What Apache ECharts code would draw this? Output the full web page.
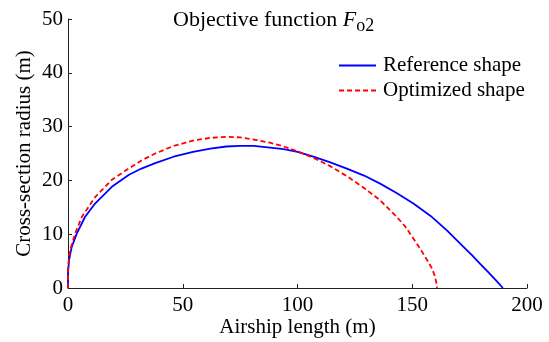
<!DOCTYPE html>
<html>
<head>
<meta charset="utf-8">
<script src="https://cdn.jsdelivr.net/npm/echarts@6/dist/echarts.min.js"></script>
<style>html,body{margin:0;padding:0;background:#fff;}#c{width:549px;height:342px;}</style>
</head>
<body>
<div id="c"></div>
<script>
var xTicks = [0, 50, 100, 150, 200];
var yTicks = [0, 10, 20, 30, 40, 50];
var seriesNames = ['Reference shape', 'Optimized shape'];
var referenceShape = [
  [0,0],[0,2.7],[0.45,5.2],[1.6,7.6],[3.8,10.1],[7.4,13.2],[11.8,15.7],[19.1,18.8],[26.4,21.0],[32,22.2],
  [38,23.2],[46,24.4],[54.5,25.3],[62,25.9],[69,26.3],[75,26.4],[81,26.4],[88,26.1],[94,25.8],[100,25.3],
  [106.9,24.4],[114,23.4],[121.5,22.2],[129,20.9],[136,19.4],[143,17.7],[150.5,15.7],[158,13.4],
  [165.1,10.7],[172,7.8],[176,6.1],[179.6,4.5],[183,3.0],[186.5,1.4],[189.5,0]
];
var optimizedShape = [
  [0,0],[0,3.9],[0.9,7.0],[3.1,10.1],[6,13.2],[11.8,16.9],[19.1,20.1],[26.4,22.2],[32,23.7],[38,25.0],
  [46,26.4],[54.5,27.4],[62,27.9],[69,28.1],[75,28.0],[81,27.6],[88,27.0],[94,26.3],[100,25.4],
  [106.9,24.2],[114,22.7],[121.5,20.8],[129,18.6],[136,16.3],[143.3,13.2],[147,11.4],[150.5,9.2],
  [153,7.6],[154.9,6.3],[156.9,4.9],[158.6,3.6],[159.7,2.4],[160.4,1.2],[160.8,0]
];

var font = 'Liberation Serif';
var chart = echarts.init(document.getElementById('c'));
chart.setOption({
  animation: false,
  backgroundColor: '#fff',
  title: {
    text: '{a|Objective function }{i|F}{s|o2}',
    left: 173, top: 3, padding: 0,
    textStyle: {
      fontWeight: 'normal',
      rich: {
        a: {fontFamily: font, fontSize: 22, fontWeight: 'normal', color: '#000', lineHeight: 28, verticalAlign: 'bottom'},
        i: {fontFamily: font, fontSize: 22, fontWeight: 'normal', fontStyle: 'italic', color: '#000', lineHeight: 28, verticalAlign: 'bottom'},
        s: {fontFamily: font, fontSize: 18, fontWeight: 'normal', color: '#000', lineHeight: 18, verticalAlign: 'bottom', padding: [0,0,-4,0]}
      }
    }
  },
  legend: {
    orient: 'vertical',
    left: 338, top: 55, padding: 0,
    itemWidth: 37, itemHeight: 14, itemGap: 4,
    data: seriesNames,
    itemStyle: {opacity: 0},
    textStyle: {fontFamily: font, fontSize: 21, color: '#000', padding: [0,0,0,2]}
  },
  grid: {left: 68, right: 22, top: 19, bottom: 54, outerBoundsMode: 'none', containLabel: false},
  xAxis: {
    type: 'value', min: xTicks[0], max: xTicks[xTicks.length-1], interval: 50,
    name: 'Airship length (m)', nameLocation: 'middle', nameGap: 29, nameMoveOverlap: false,
    nameTextStyle: {fontFamily: font, fontSize: 21, color: '#000'},
    axisLine: {lineStyle: {color: '#222', width: 1}},
    axisTick: {inside: true, length: 4, lineStyle: {color: '#222'}},
    axisLabel: {fontFamily: font, fontSize: 21, color: '#000', margin: 7},
    splitLine: {show: false}
  },
  yAxis: {
    type: 'value', min: yTicks[0], max: yTicks[yTicks.length-1], interval: 10,
    name: 'Cross-section radius (m)', nameLocation: 'middle', nameGap: 33, nameMoveOverlap: false,
    nameTextStyle: {fontFamily: font, fontSize: 21, color: '#000'},
    axisLine: {show: true, lineStyle: {color: '#222', width: 1}},
    axisTick: {show: true, inside: true, length: 4, lineStyle: {color: '#222'}},
    axisLabel: {fontFamily: font, fontSize: 21, color: '#000', margin: 5},
    splitLine: {show: false}
  },
  series: [
    {name: seriesNames[0], type: 'line', data: referenceShape, showSymbol: false, symbol: 'none',
     smooth: false, lineStyle: {color: '#0000ff', width: 1.8}, itemStyle: {color: '#0000ff'}},
    {name: seriesNames[1], type: 'line', data: optimizedShape, showSymbol: false, symbol: 'none',
     smooth: false, lineStyle: {color: '#ff0000', width: 1.8, type: [5, 3]}, itemStyle: {color: '#ff0000'}}
  ]
});
</script>
</body>
</html>
